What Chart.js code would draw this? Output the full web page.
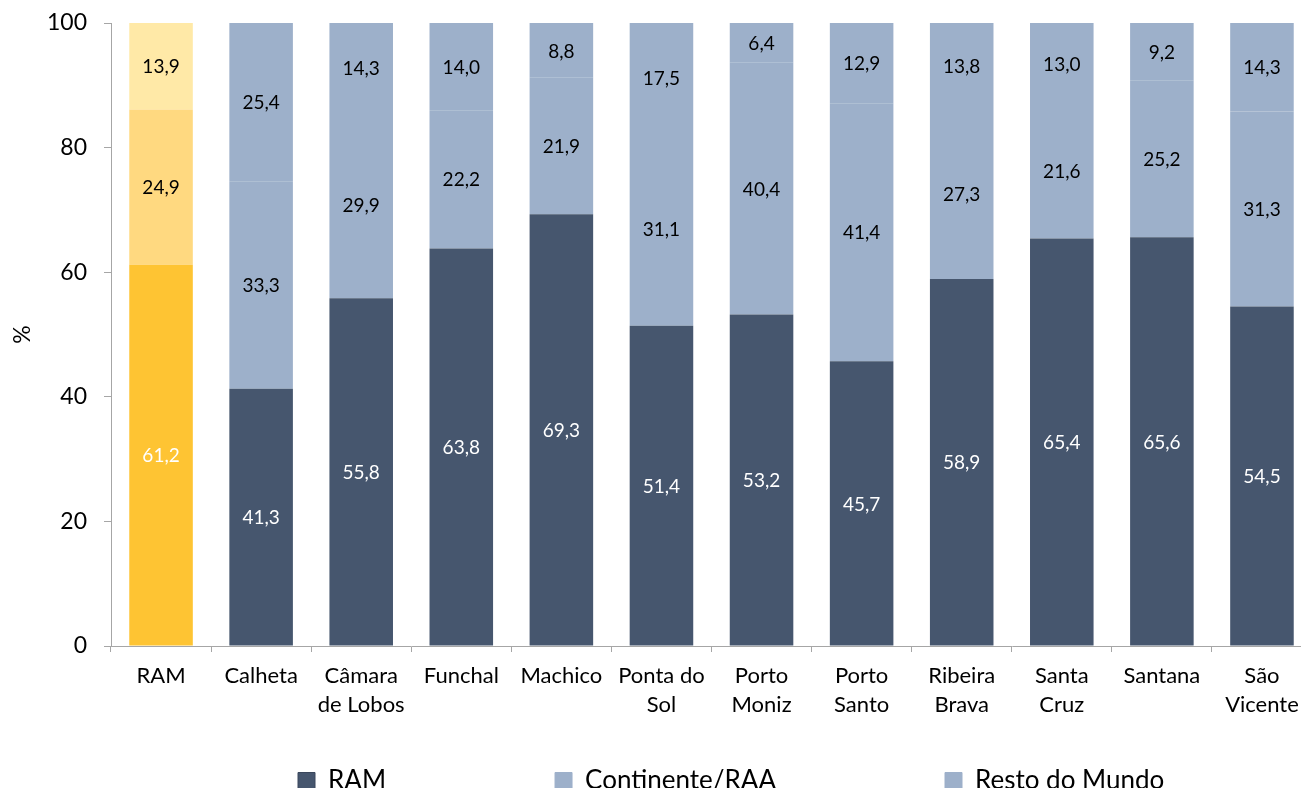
<!DOCTYPE html>
<html><head><meta charset="utf-8">
<script src="https://cdn.jsdelivr.net/npm/chart.js@4/dist/chart.umd.min.js"></script>
<style>html,body{margin:0;padding:0;background:#fff;overflow:hidden}#wrap{width:1312px;height:792px;position:relative}</style>
</head><body><div id="wrap"><canvas id="c"></canvas></div>
<script>
const categories = [["RAM"],["Calheta"],["Câmara","de Lobos"],["Funchal"],["Machico"],["Ponta do","Sol"],["Porto","Moniz"],["Porto","Santo"],["Ribeira","Brava"],["Santa","Cruz"],["Santana"],["São","Vicente"]];
const seriesNames = ["RAM","Continente/RAA","Resto do Mundo"];
const ramValues = [61.2,41.3,55.8,63.8,69.3,51.4,53.2,45.7,58.9,65.4,65.6,54.5];
const continenteValues = [24.9,33.3,29.9,22.2,21.9,31.1,40.4,41.4,27.3,21.6,25.2,31.3];
const restoValues = [13.9,25.4,14.3,14.0,8.8,17.5,6.4,12.9,13.8,13.0,9.2,14.3];
const yTickValues = [0,20,40,60,80,100];

const DARK = '#46566E', LIGHT = '#9DB0CA';
const YELLOWS = ['#FEC433','#FFD980','#FFE9A7'];
const FONT = 'Lato, "Open Sans", sans-serif';
const LEGEND_PAD = 169;

function colors(base, yellow){ return categories.map((c,i)=> i===0 ? yellow : base); }

const valueLabels = {
  id:'valueLabels',
  afterDatasetsDraw(chart){
    const ctx = chart.ctx;
    ctx.save();
    ctx.font = '19px ' + FONT;
    ctx.textAlign = 'center';
    ctx.textBaseline = 'middle';
    chart.data.datasets.forEach((ds, di)=>{
      const meta = chart.getDatasetMeta(di);
      meta.data.forEach((el, i)=>{
        const v = ds.data[i];
        const y = (el.y + el.base)/2;
        ctx.fillStyle = di===0 ? '#FFFFFF' : '#000000';
        ctx.fillText(v.toFixed(1).replace('.', ','), el.x, y+1);
      });
    });
    ctx.restore();
  }
};

const legendTweak = {
  id:'legendTweak',
  beforeUpdate(chart){
    const lg = chart.legend;
    if(lg && !lg._patched){
      const orig = lg.fit.bind(lg);
      lg.fit = function(){ orig(); this.height = 46; };
      lg._patched = true;
    }
  },
  afterLayout(chart){
    const lg = chart.legend;
    if(lg && lg.lineWidths){
      const start = (lg.left + LEGEND_PAD + lg.right - lg.lineWidths[0]) / 2;
      const dx = 298 - start;
      lg.left += dx; lg.right += dx; lg.top = 768 - LEGEND_PAD;
    }
  }
};

new Chart(document.getElementById('c'), {
  type:'bar',
  data:{
    labels: categories,
    datasets:[
      {label:seriesNames[0], data:ramValues, backgroundColor:colors(DARK,YELLOWS[0]), legendColor:DARK, legendBorder:'#3A475C'},
      {label:seriesNames[1], data:continenteValues, backgroundColor:colors(LIGHT,YELLOWS[1]), legendColor:LIGHT, legendBorder:LIGHT},
      {label:seriesNames[2], data:restoValues, backgroundColor:colors(LIGHT,YELLOWS[2]), legendColor:LIGHT, legendBorder:LIGHT}
    ]
  },
  options:{
    responsive:true, maintainAspectRatio:false, animation:false,
    layout:{padding:{top:23,left:0,right:0,bottom:4}},
    datasets:{bar:{barPercentage:0.635, categoryPercentage:1, borderWidth:0}},
    plugins:{
      tooltip:{enabled:false},
      legend:{
        position:'bottom',
        labels:{
          boxWidth:17, boxHeight:17, padding:LEGEND_PAD, color:'#000',
          font:{family:FONT, size:26},
          generateLabels(chart){
            return chart.data.datasets.map((ds,i)=>({
              text:ds.label, fillStyle:ds.legendColor, strokeStyle:ds.legendBorder, lineWidth:1, hidden:false, datasetIndex:i, fontColor:'#000'
            }));
          }
        }
      }
    },
    scales:{
      x:{
        stacked:true,
        grid:{display:true, drawOnChartArea:false, offset:true, color:'#A6A6A6', tickLength:6, lineWidth:1},
        border:{color:'#A6A6A6', width:1},
        ticks:{color:'#000', font:{family:FONT, size:22, lineHeight:1.3}, padding:10, maxRotation:0, autoSkip:false},
        afterFit(s){ s.height = 96; }
      },
      y:{
        stacked:true, min:0, max:100,
        afterBuildTicks(s){ s.ticks = yTickValues.map(v=>({value:v})); },
        grid:{display:true, drawOnChartArea:false, color:'#A6A6A6', tickLength:7, lineWidth:1},
        border:{color:'#A6A6A6', width:1},
        ticks:{color:'#000', font:{family:FONT, size:23}, padding:17},
        title:{display:true, text:'%', color:'#000', font:{family:FONT, size:23}, padding:{top:9,bottom:0}},
        afterFit(s){ s.width = 111; s.paddingTop = 8; s.paddingBottom = 8; }
      }
    }
  },
  plugins:[valueLabels, legendTweak]
});
</script>
</body></html>
